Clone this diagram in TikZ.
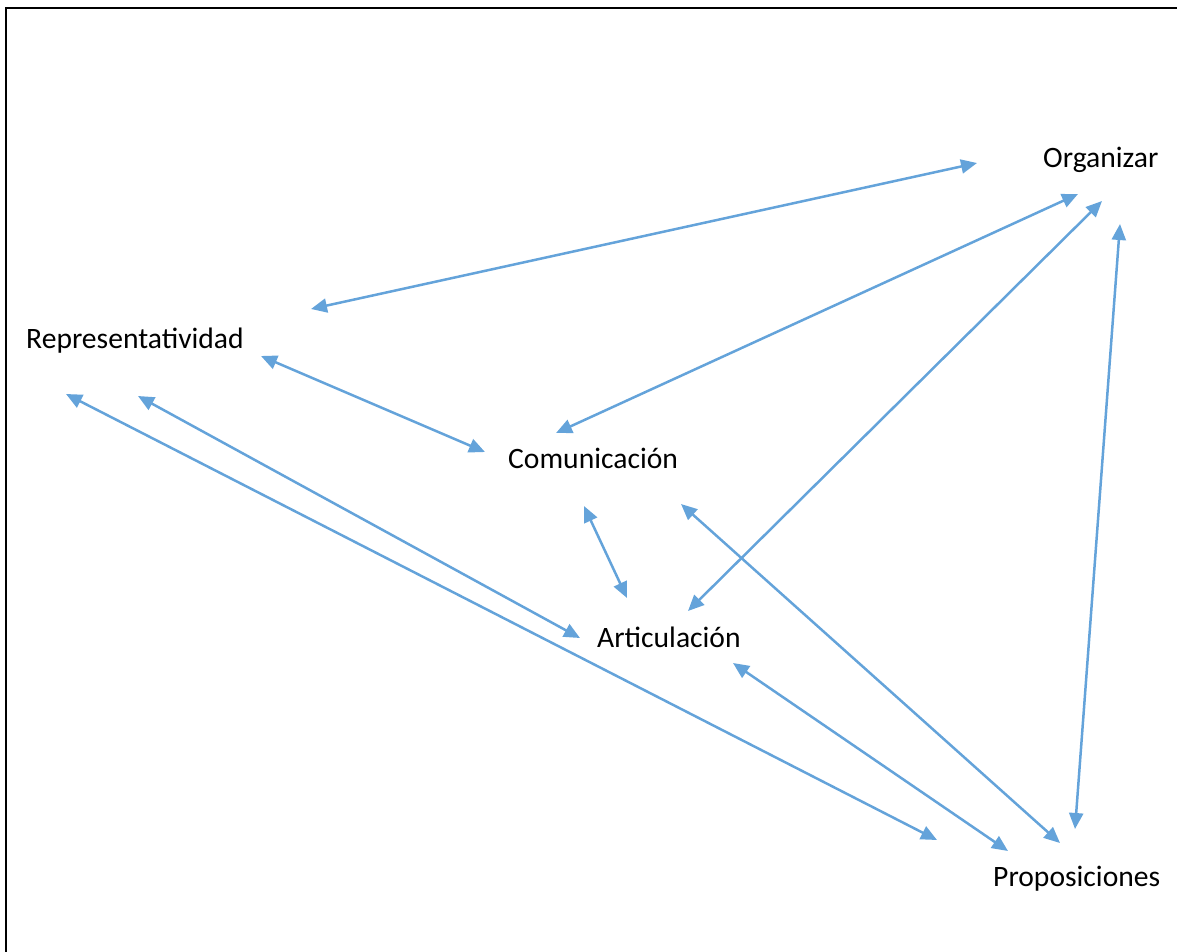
\documentclass[tikz,border=0pt]{standalone}
\usepackage{fontspec}
\setmainfont{Carlito}
\usetikzlibrary{arrows.meta}
\definecolor{arrowblue}{RGB}{100,163,218}
\tikzset{
  lbl/.style={anchor=base west, inner sep=0pt, font=\fontsize{29.6}{35}\selectfont, text=black},
  link/.style={draw=arrowblue, line width=2.5pt,
    {Triangle[length=16pt,width=14pt]}-{Triangle[length=16pt,width=14pt]}}
}
\begin{document}
\begin{tikzpicture}[x=1pt,y=-1pt]
\useasboundingbox (0,0) rectangle (1177,951);
\coordinate (frTR) at (1177,8);
\coordinate (frTL) at (6,8);
\coordinate (frBL) at (6,951);
\draw[line width=2pt, black, line cap=rect] (frTR) -- (frTL) -- (frBL);

\node[lbl] (org) at (1043,167) {Organizar};
\node[lbl] (rep) at (26,348) {Representatividad};
\node[lbl] (com) at (508,468) {Comunicación};
\node[lbl] (art) at (597,647) {Articulación};
\node[lbl] (pro) at (993,886) {Proposiciones};

% endpoints
\coordinate (ro1) at (311,309);  \coordinate (ro2) at (977,163);
\coordinate (oc1) at (1078,194); \coordinate (oc2) at (556,433);
\coordinate (oa1) at (1102,201); \coordinate (oa2) at (688,611);
\coordinate (op1) at (1120,224); \coordinate (op2) at (1075,829);
\coordinate (rc1) at (261,356);  \coordinate (rc2) at (485,452);
\coordinate (ra1) at (138,396);  \coordinate (ra2) at (580,638);
\coordinate (rp1) at (66,394);   \coordinate (rp2) at (937,840);
\coordinate (ca1) at (584,506);  \coordinate (ca2) at (627,598);
\coordinate (cp1) at (681,504);  \coordinate (cp2) at (1060,843);
\coordinate (ap1) at (733,663);  \coordinate (ap2) at (1008,851);

\draw[link] (ro1) -- (ro2);
\draw[link] (oc1) -- (oc2);
\draw[link] (oa1) -- (oa2);
\draw[link] (op1) -- (op2);
\draw[link] (rc1) -- (rc2);
\draw[link] (ra1) -- (ra2);
\draw[link] (rp1) -- (rp2);
\draw[link] (ca1) -- (ca2);
\draw[link] (cp1) -- (cp2);
\draw[link] (ap1) -- (ap2);
\end{tikzpicture}
\end{document}
